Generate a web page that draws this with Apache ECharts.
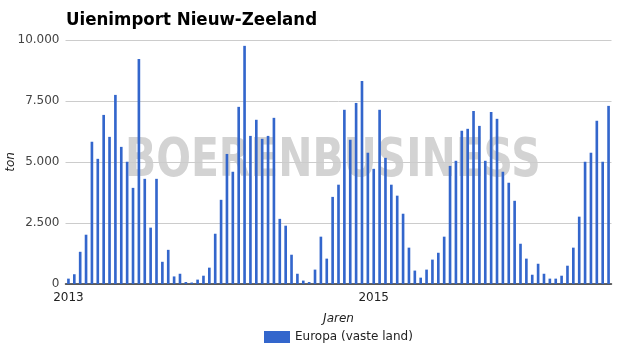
<!DOCTYPE html>
<html>
<head>
<meta charset="utf-8">
<script src="https://cdn.jsdelivr.net/npm/echarts@6/dist/echarts.min.js"></script>
<style>html,body{margin:0;padding:0;background:#fff}#c{width:625px;height:355px}</style>
</head>
<body>
<div id="c"></div>
<script>
// Biweekly periods starting 2013 (26 per year)
var startYear = 2013;
var periodsPerYear = 26;
var values = [
  220, 400, 1320, 2020, 5830, 5130, 6930, 6030, 7750, 5620,
  5010, 3940, 9220, 4310, 2310, 4310, 910, 1400, 310, 420,
  80, 60, 180, 340, 670, 2060, 3450, 5330, 4600, 7260,
  9760, 6070, 6730, 5950, 6070, 6810, 2670, 2390, 1200, 420,
  140, 80, 590, 1940, 1040, 3570, 4070, 7140, 5910, 7420,
  8320, 5380, 4720, 7140, 5170, 4070, 3620, 2880, 1490, 550,
  260, 590, 1000, 1280, 1940, 4840, 5050, 6280, 6360, 7090,
  6480, 5050, 7050, 6770, 4600, 4150, 3410, 1650, 1040, 380,
  830, 420, 220, 220, 340, 750, 1490, 2760, 5010, 5380,
  6690, 5010, 7300
];
var categories = [];
for (var i = 0; i < values.length; i++) {
  var y = startYear + Math.floor(i / periodsPerYear);
  var p = (i % periodsPerYear) + 1;
  categories.push(y + '-' + (p < 10 ? '0' + p : p));
}
var yTicks = [0, 2500, 5000, 7500, 10000];
var seriesName = 'Europa (vaste land)';
var titleText = 'Uienimport Nieuw-Zeeland';
var watermark = 'BOERENBUSINESS';

function fmtNum(v) {
  return String(v).replace(/\B(?=(\d{3})+(?!\d))/g, '.');
}

var chart = echarts.init(document.getElementById('c'), null, {renderer: 'canvas'});
chart.setOption({
  animation: false,
  backgroundColor: '#fff',
  textStyle: {fontFamily: 'DejaVu Sans'},
  title: {
    text: titleText,
    left: 61, top: 6,
    textStyle: {fontFamily: 'DejaVu Sans Condensed', fontWeight: 'bold', fontSize: 18.5, color: '#000'}
  },
  graphic: [{
    type: 'text',
    x: 125, y: 136,
    scaleX: 0.73, scaleY: 0.95,
    z: -10,
    style: {
      text: watermark,
      font: 'bold 56px "DejaVu Sans"',
      fill: '#d3d3d3'
    }
  }],
  grid: {left: 65.5, right: 13.5, top: 40, bottom: 71, containLabel: false, outerBoundsMode: 'none'},
  legend: {
    left: 259, top: 326,
    itemWidth: 26, itemHeight: 12, itemGap: 8,
    icon: 'rect',
    textStyle: {fontFamily: 'DejaVu Sans', fontSize: 12, color: '#222'},
    data: [seriesName]
  },
  xAxis: {
    type: 'category',
    data: categories,
    boundaryGap: true,
    name: 'Jaren',
    nameLocation: 'middle',
    nameGap: 29,
    nameMoveOverlap: false,
    nameTextStyle: {fontFamily: 'DejaVu Sans', fontStyle: 'italic', fontSize: 12, color: '#222'},
    axisTick: {show: false},
    axisLine: {lineStyle: {color: '#333', width: 1.5}},
    axisLabel: {
      interval: function (idx) { return idx % (periodsPerYear * 2) === 0; },
      formatter: function (v) { return v.split('-')[0]; },
      fontFamily: 'DejaVu Sans', fontSize: 12, color: '#222', margin: 8
    },
    splitLine: {show: false}
  },
  yAxis: {
    type: 'value',
    min: yTicks[0], max: yTicks[yTicks.length - 1], interval: 2500,
    name: 'ton',
    nameLocation: 'middle',
    nameGap: 49,
    nameMoveOverlap: false,
    nameRotate: 90,
    nameTextStyle: {fontFamily: 'DejaVu Sans', fontStyle: 'italic', fontSize: 12, color: '#222'},
    axisLine: {show: false},
    axisTick: {show: false},
    axisLabel: {formatter: function (v) { return fmtNum(v); }, fontFamily: 'DejaVu Sans', fontSize: 12, color: '#444', margin: 6},
    splitLine: {lineStyle: {color: '#ccc', width: 1}}
  },
  series: [{
    name: seriesName,
    type: 'bar',
    data: values,
    barWidth: '45%',
    itemStyle: {color: '#3366cc'},
    z: 5
  }]
});
</script>
</body>
</html>
